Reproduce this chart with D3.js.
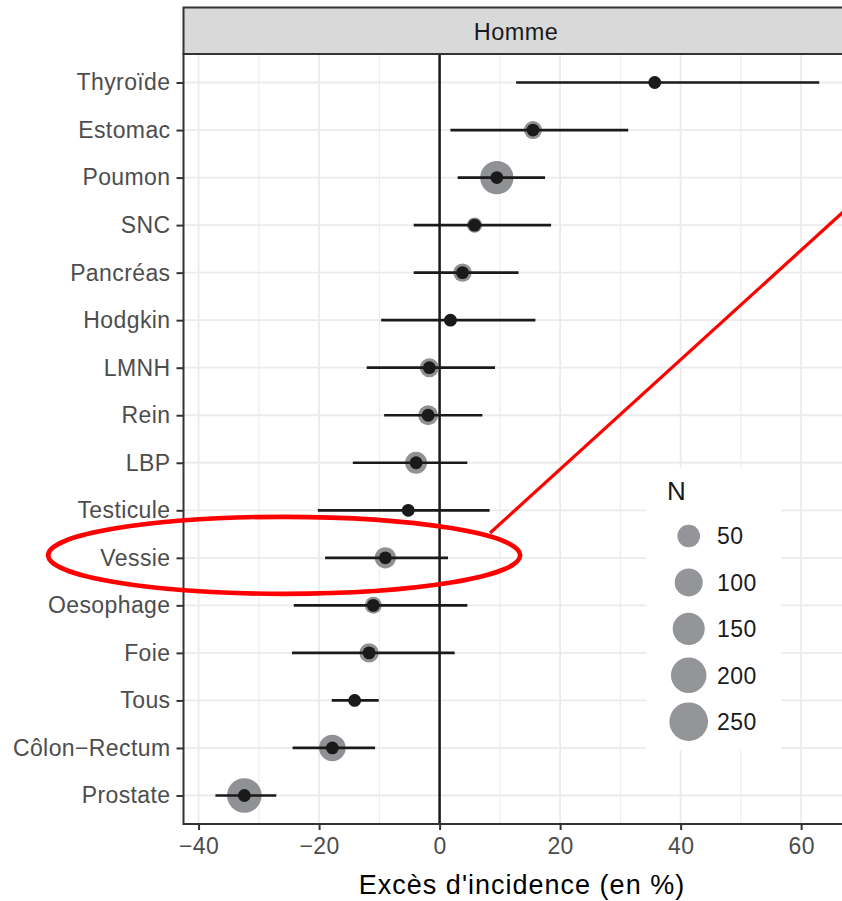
<!DOCTYPE html>
<html>
<head>
<meta charset="utf-8">
<script src="https://cdn.jsdelivr.net/npm/d3@7"></script>
<style>
body { margin: 0; background: #fff; }
text { font-family: "Liberation Sans", Arial, sans-serif; }
</style>
</head>
<body>
<script>
// values
var categories = ["Thyroïde", "Estomac", "Poumon", "SNC", "Pancréas", "Hodgkin", "LMNH", "Rein",
	"LBP", "Testicule", "Vessie", "Oesophage", "Foie", "Tous", "Côlon\u2212Rectum", "Prostate"];
var excess = [35.7, 15.5, 9.5, 5.8, 3.8, 1.8, -1.7, -1.9, -3.9, -5.2, -9.0, -11.0, -11.7, -14.1, -17.8, -32.4];
var lower  = [12.7, 1.8, 3.0, -4.3, -4.3, -9.7, -12.1, -9.2, -14.4, -20.2, -19.0, -24.2, -24.5, -17.9, -24.4, -37.2];
var upper  = [63.0, 31.3, 17.5, 18.5, 13.1, 15.9, 9.2, 7.1, 4.6, 8.3, 1.4, 4.6, 2.5, -10.1, -10.7, -27.1];
var nCases = [2, 21, 168, 10, 23, 2, 26, 32, 45, 2, 40, 16, 28, 2, 86, 185];

var xTicks = [-40, -20, 0, 20, 40, 60];
var xMinor = [-30, -10, 10, 30, 50];
var legendBreaks = [50, 100, 150, 200, 250];

var width = 842, height = 901;
var panel = {left: 183.5, right: 862, top: 54, bottom: 824};
var stripTop = 7.5;

var rows = categories.map(function(c, i) {
	return {name: c, est: excess[i], lo: lower[i], hi: upper[i], n: nCases[i]};
});

var x = d3.scaleLinear()
	.domain([-42.5, 70.1])
	.range([panel.left, panel.right]);

var y = d3.scalePoint()
	.domain(categories)
	.range([panel.top, panel.bottom])
	.padding(0.6);

var r = d3.scaleSqrt()
	.domain([50, 250])
	.range([11.3, 19.3]);

var svg = d3.select("body").append("svg")
	.attr("width", width)
	.attr("height", height);

// grid
var grid = svg.append("g");
grid.selectAll("line.minor")
	.data(xMinor)
	.enter().append("line")
		.attr("x1", function(d) { return x(d); })
		.attr("x2", function(d) { return x(d); })
		.attr("y1", panel.top).attr("y2", panel.bottom)
		.attr("stroke", "#ebebeb").attr("stroke-width", 1);
grid.selectAll("line.majx")
	.data(xTicks)
	.enter().append("line")
		.attr("x1", function(d) { return x(d); })
		.attr("x2", function(d) { return x(d); })
		.attr("y1", panel.top).attr("y2", panel.bottom)
		.attr("stroke", "#ebebeb").attr("stroke-width", 1.8);
grid.selectAll("line.majy")
	.data(categories)
	.enter().append("line")
		.attr("x1", panel.left).attr("x2", panel.right)
		.attr("y1", function(d) { return y(d); })
		.attr("y2", function(d) { return y(d); })
		.attr("stroke", "#ebebeb").attr("stroke-width", 1.8);

// legend box (inside the panel, hides the grid)
var legY = d3.scalePoint()
	.domain(legendBreaks)
	.range([536, 721.7]);

var legend = svg.append("g");
legend.append("rect")
	.attr("x", 646.5).attr("y", 468)
	.attr("width", 134.5).attr("height", 282)
	.attr("fill", "#fff");

// zero line
svg.append("line")
	.attr("x1", x(0)).attr("x2", x(0))
	.attr("y1", panel.top).attr("y2", panel.bottom)
	.attr("stroke", "#1a1a1a").attr("stroke-width", 2.5);

var marks = svg.append("g");

marks.selectAll("circle.n")
	.data(rows)
	.enter().append("circle")
		.attr("cx", function(d) { return x(d.est); })
		.attr("cy", function(d) { return y(d.name); })
		.attr("r", function(d) { return r(d.n); })
		.attr("fill", "#8f9194");

marks.selectAll("line.ci")
	.data(rows)
	.enter().append("line")
		.attr("x1", function(d) { return x(d.lo); })
		.attr("x2", function(d) { return x(d.hi); })
		.attr("y1", function(d) { return y(d.name); })
		.attr("y2", function(d) { return y(d.name); })
		.attr("stroke", "#1a1a1a").attr("stroke-width", 2.7);

marks.selectAll("circle.pt")
	.data(rows)
	.enter().append("circle")
		.attr("cx", function(d) { return x(d.est); })
		.attr("cy", function(d) { return y(d.name); })
		.attr("r", 6.4)
		.attr("fill", "#1a1a1a");

// legend content
legend.append("text")
	.attr("x", 667).attr("y", 500)
	.attr("font-size", 26)
	.attr("fill", "#1a1a1a")
	.text("N");

legend.selectAll("circle")
	.data(legendBreaks)
	.enter().append("circle")
		.attr("cx", 688.7)
		.attr("cy", function(d) { return legY(d); })
		.attr("r", function(d) { return r(d); })
		.attr("fill", "#939598");

legend.selectAll("text.lab")
	.data(legendBreaks)
	.enter().append("text")
		.attr("x", 717)
		.attr("y", function(d) { return legY(d); })
		.attr("dy", "0.36em")
		.attr("font-size", 23)
		.attr("letter-spacing", 0.4)
		.attr("fill", "#1a1a1a")
		.text(function(d) { return d; });

// panel border
svg.append("rect")
	.attr("x", panel.left).attr("y", panel.top)
	.attr("width", panel.right - panel.left)
	.attr("height", panel.bottom - panel.top)
	.attr("fill", "none")
	.attr("stroke", "#333").attr("stroke-width", 2);

// strip
svg.append("rect")
	.attr("x", panel.left).attr("y", stripTop)
	.attr("width", panel.right - panel.left)
	.attr("height", panel.top - stripTop)
	.attr("fill", "#d9d9d9")
	.attr("stroke", "#333").attr("stroke-width", 2);

svg.append("text")
	.attr("x", 516).attr("y", 40)
	.attr("text-anchor", "middle")
	.attr("font-size", 23.5)
	.attr("letter-spacing", 0.4)
	.attr("fill", "#1a1a1a")
	.text("Homme");

// axes
var xAxis = d3.axisBottom(x)
	.tickValues(xTicks)
	.tickSize(6)
	.tickPadding(8);

svg.append("g")
	.attr("transform", "translate(0," + panel.bottom + ")")
	.call(xAxis)
	.call(function(g) { g.select(".domain").remove(); });

var yAxis = d3.axisLeft(y)
	.tickSize(7)
	.tickPadding(6);

svg.append("g")
	.attr("transform", "translate(" + panel.left + ",0)")
	.call(yAxis)
	.call(function(g) { g.select(".domain").remove(); });

svg.selectAll(".tick line").attr("stroke", "#333").attr("stroke-width", 2);
svg.selectAll(".tick text")
	.attr("font-family", "Liberation Sans, Arial, sans-serif")
	.attr("font-size", 23)
	.attr("letter-spacing", 0.4)
	.attr("fill", "#4d4d4d");

svg.append("text")
	.attr("x", 522).attr("y", 894)
	.attr("text-anchor", "middle")
	.attr("font-size", 27)
	.attr("letter-spacing", 1.0)
	.attr("fill", "#000")
	.text("Excès d'incidence (en %)");

// red annotation around Vessie
var note = {value: -25.8, rx: 236, ry: 38.5, lineFrom: [490, 533], slope: -0.909};
var vy = y("Vessie") - 2.5;
svg.append("ellipse")
	.attr("cx", x(note.value)).attr("cy", vy)
	.attr("rx", note.rx).attr("ry", note.ry)
	.attr("fill", "none")
	.attr("stroke", "#ff0000").attr("stroke-width", 4.6);

svg.append("line")
	.attr("x1", note.lineFrom[0]).attr("y1", note.lineFrom[1])
	.attr("x2", width + 20)
	.attr("y2", note.lineFrom[1] + note.slope * (width + 20 - note.lineFrom[0]))
	.attr("stroke", "#ff0000").attr("stroke-width", 3.2);
</script>
</body>
</html>
